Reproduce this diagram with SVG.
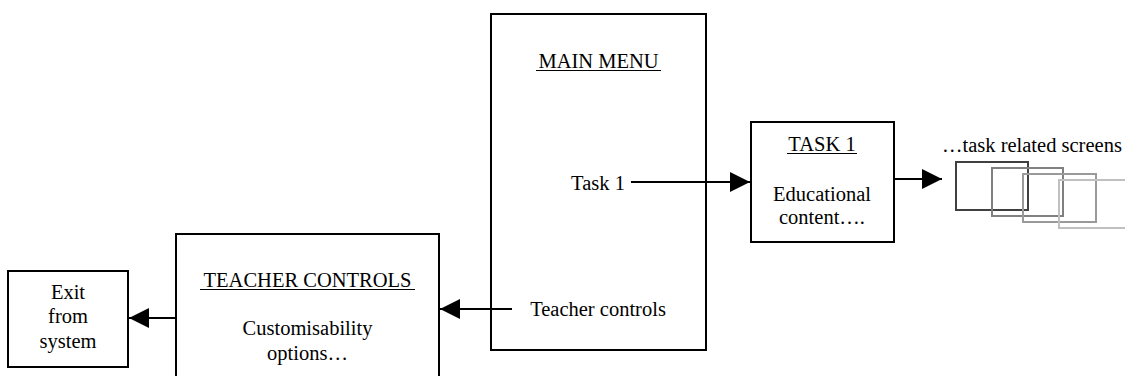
<svg xmlns="http://www.w3.org/2000/svg" width="1125" height="376" viewBox="0 0 1125 376">
<style>
.box{fill:#fff;stroke:#000;stroke-width:2}
.t{font-family:"Liberation Serif","Times New Roman",serif;font-size:20.5px;fill:#000;text-anchor:middle}
.u{stroke:#000;stroke-width:1.2}
.c{stroke:#000;stroke-width:2;fill:none}
.scr{fill:none;stroke-width:2}
</style>
<defs>
<marker id="ah" viewBox="0 0 20 20" refX="20" refY="10" markerWidth="20" markerHeight="20" markerUnits="userSpaceOnUse" orient="auto">
<path d="M0,0 L20,10 L0,20 Z" fill="#000"/>
</marker>
</defs>
<rect width="1125" height="376" fill="#fff"/>
<g id="main-menu">
<rect class="box" x="491" y="14" width="215" height="336"/>
<text class="t" x="598.5" y="68">MAIN MENU</text>
<line class="u" x1="536" y1="70.5" x2="661" y2="70.5"/>
<text class="t" x="598" y="190">Task 1</text>
<text class="t" x="598" y="316">Teacher controls</text>
</g>
<g id="task1">
<rect class="box" x="751" y="122" width="143" height="120"/>
<text class="t" x="822" y="151">TASK 1</text>
<line class="u" x1="787" y1="153.5" x2="857" y2="153.5"/>
<text class="t" x="822" y="201">Educational</text>
<text class="t" x="822" y="224">content….</text>
</g>
<g id="teacher-controls">
<rect class="box" x="176" y="234" width="263" height="160"/>
<text class="t" x="307.5" y="287">TEACHER CONTROLS</text>
<line class="u" x1="200" y1="289.5" x2="415" y2="289.5"/>
<text class="t" x="307.5" y="335">Customisability</text>
<text class="t" x="307.5" y="360">options…</text>
</g>
<g id="exit">
<rect class="box" x="8" y="271" width="120" height="96"/>
<text class="t" x="68" y="299">Exit</text>
<text class="t" x="68" y="323">from</text>
<text class="t" x="68" y="348">system</text>
</g>
<g id="task-screens">
<text font-family="'Liberation Serif','Times New Roman',serif" font-size="20.5px" x="942" y="152">…task related screens</text>
<rect class="scr" stroke="#404040" x="956" y="162" width="72" height="48"/>
<rect class="scr" stroke="#808080" x="992" y="168" width="71" height="48"/>
<rect class="scr" stroke="#9a9a9a" x="1023" y="174" width="73" height="48"/>
<rect class="scr" stroke="#c0c0c0" x="1059" y="180" width="80" height="48"/>
</g>
<g id="connectors">
<line class="c" x1="631" y1="182" x2="750" y2="182" marker-end="url(#ah)"/>
<line class="c" x1="894" y1="179" x2="942" y2="179" marker-end="url(#ah)"/>
<line class="c" x1="512" y1="309" x2="440" y2="309" marker-end="url(#ah)"/>
<line class="c" x1="176" y1="318" x2="129" y2="318" marker-end="url(#ah)"/>
</g>
</svg>
